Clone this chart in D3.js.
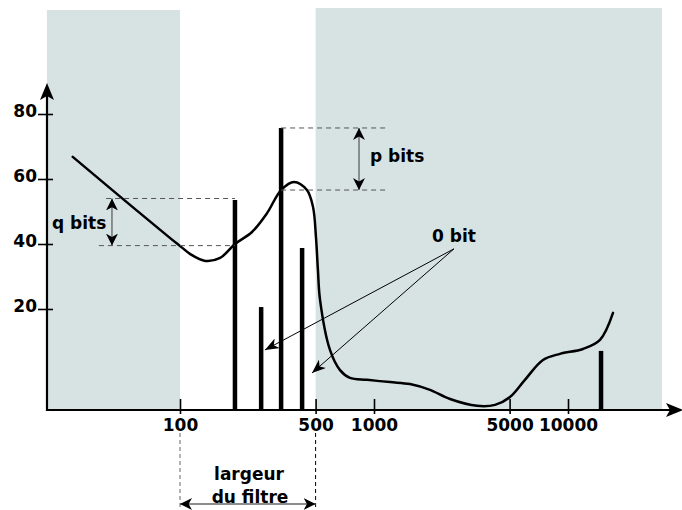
<!DOCTYPE html>
<html><head><meta charset="utf-8">
<script src="https://cdn.jsdelivr.net/npm/d3@7"></script>
<style>
body{margin:0;background:#fff}
svg text{font-family:"DejaVu Sans",sans-serif;font-weight:bold;font-size:17px;fill:#000}
</style>
</head><body><svg id="c" width="682" height="510"></svg>
<script>
// ---- data ----
const xTickValues = [100, 500, 1000, 5000, 10000];
const yTickValues = [20, 40, 60, 80];
const barFreq  = [192, 262, 332, 426, 14800];
const barLevel = [53.5, 20.6, 75.7, 38.8, 7.1];
const curveFreq  = [28, 50, 89, 100, 113, 135, 161, 192, 235, 281, 332, 387, 451, 485, 502, 514, 527, 593, 668, 752, 920, 1209, 1533, 1944, 2465, 3396, 4205, 5023, 5998, 7430, 9095, 11940, 14620, 17060];
const curveLevel = [66.8, 54.2, 41.8, 39.4, 36.9, 34.8, 35.7, 40, 43.7, 49.5, 56.6, 59.1, 56.6, 51.4, 42.2, 32, 22.8, 7.4, 1.2, -1.2, -1.8, -2.5, -3.1, -4.9, -7.7, -9.8, -9.5, -7.1, -1.8, 4.3, 6.2, 7.7, 10.5, 18.8];
const bandStart = [20.6, 500];
const bandEnd   = [100, 30500];
const bandTop   = [112, 112.6];
const qLevels = [54, 39.5];
const pLevels = [75.7, 56.6];
const zeroBitTargetsFreq  = [274, 479];
const zeroBitTargetsLevel = [7.4, 0.3];

// ---- scales ----
const svg = d3.select("#c");
const x = d3.scaleLog().domain([100, 10000]).range([180, 568]);
const y = d3.scaleLinear().domain([-11.08, 90]).range([410, 81.5]);
const baseY = 410, axisX = 47;

// markers
const defs = svg.append("defs");
function marker(id, len, half) {
  defs.append("marker").attr("id", id).attr("markerUnits", "userSpaceOnUse")
    .attr("viewBox", `${-len} ${-half} ${len} ${half*2}`)
    .attr("refX", 0).attr("refY", 0).attr("markerWidth", len).attr("markerHeight", half*2)
    .attr("orient", "auto-start-reverse")
    .append("path").attr("d", `M0,0 L${-len},${-half} L${-len*0.72},0 L${-len},${half} Z`).attr("fill", "#000");
}
marker("ah", 12, 6);
marker("ahs", 14, 5.5);

// bands
svg.selectAll("rect.band").data(bandStart).enter().append("rect")
  .attr("class", "band")
  .attr("x", (d) => x(d))
  .attr("y", (d, i) => y(bandTop[i]))
  .attr("width", (d, i) => x(bandEnd[i]) - x(d))
  .attr("height", (d, i) => baseY - y(bandTop[i]))
  .attr("fill", "#d7e3e3");

// bars
svg.selectAll("line.bar").data(barFreq).enter().append("line")
  .attr("x1", d => x(d)).attr("x2", d => x(d))
  .attr("y1", baseY).attr("y2", (d, i) => y(barLevel[i]))
  .attr("stroke", "#000").attr("stroke-width", 4.5);

// curve
const pts = curveFreq.map((f, i) => [x(f), y(curveLevel[i])]);
svg.append("path").attr("d", d3.line().curve(d3.curveCatmullRom.alpha(0.5))(pts))
  .attr("fill", "none").attr("stroke", "#000").attr("stroke-width", 2.5)
  .attr("stroke-linecap", "round");

// x axis
const gx = svg.append("g").attr("transform", `translate(0,${baseY})`)
  .call(d3.axisBottom(x).tickValues(xTickValues).tickFormat(d3.format("d")).tickSizeOuter(0));
gx.select(".domain").remove();
gx.selectAll(".tick line").attr("y1", -11).attr("y2", 4).attr("stroke", "#000").attr("stroke-width", 1.6);
gx.selectAll(".tick text").attr("y", 21).attr("dy", 0).attr("font-size", null).attr("font-family", null);
svg.append("line").attr("x1", axisX - 1).attr("x2", 670).attr("y1", baseY).attr("y2", baseY)
  .attr("stroke", "#000").attr("stroke-width", 2.2);
svg.append("path").attr("d", `M683,${baseY} L666,${baseY-7} L670,${baseY} L666,${baseY+7} Z`).attr("fill", "#000");

// y axis
const gy = svg.append("g").attr("transform", `translate(${axisX},0)`)
  .call(d3.axisLeft(y).tickValues(yTickValues).tickFormat(d3.format("d")).tickSizeOuter(0));
gy.select(".domain").remove();
gy.selectAll(".tick line").attr("x1", -9).attr("x2", 6).attr("stroke", "#000").attr("stroke-width", 1.6);
gy.selectAll(".tick text").attr("x", -10).attr("dy", 3).attr("font-size", null).attr("font-family", null);
svg.append("line").attr("x1", axisX).attr("x2", axisX).attr("y1", baseY + 1).attr("y2", 96)
  .attr("stroke", "#000").attr("stroke-width", 2.2);
svg.append("path").attr("d", `M${axisX},83 L${axisX+7},100 L${axisX},96 L${axisX-7},100 Z`).attr("fill", "#000");

// helpers
function dline(x1, y1, x2, y2, col, da) {
  return svg.append("line").attr("x1", x1).attr("y1", y1).attr("x2", x2).attr("y2", y2)
    .attr("stroke", col || "#555").attr("stroke-width", 1).attr("stroke-dasharray", da || "5,4");
}

// q bits annotation
dline(x(41.6), y(qLevels[0]), x(barFreq[0]), y(qLevels[0]));
dline(x(38.2), y(qLevels[1]), x(barFreq[0]), y(qLevels[1]));
svg.append("line").attr("x1", x(44.6)).attr("x2", x(44.6)).attr("y1", y(qLevels[0])).attr("y2", y(qLevels[1]))
  .attr("stroke", "#555").attr("stroke-width", 1.2)
  .attr("marker-start", "url(#ah)").attr("marker-end", "url(#ah)");
svg.append("text").attr("x", 52).attr("y", 229).text("q bits");

// p bits annotation
dline(x(barFreq[2]), y(pLevels[0]), x(1153), y(pLevels[0]));
dline(x(barFreq[2]), y(pLevels[1]), x(1190), y(pLevels[1]));
svg.append("line").attr("x1", x(837)).attr("x2", x(837)).attr("y1", y(pLevels[0])).attr("y2", y(pLevels[1]))
  .attr("stroke", "#555").attr("stroke-width", 1.2)
  .attr("marker-start", "url(#ah)").attr("marker-end", "url(#ah)");
svg.append("text").attr("x", 370).attr("y", 162).text("p bits");

// 0 bit annotation
const src = [x(2582), y(38.5)];
zeroBitTargetsFreq.forEach((f, i) => {
  svg.append("line").attr("x1", src[0]).attr("y1", src[1]).attr("x2", x(f)).attr("y2", y(zeroBitTargetsLevel[i]))
    .attr("stroke", "#000").attr("stroke-width", 1).attr("marker-end", "url(#ahs)");
});
svg.append("text").attr("x", 432).attr("y", 242).text("0 bit");

// filter width annotation
dline(x(100), 433, x(100), 510, "#666", "4,3");
dline(x(500), 433, x(500), 510, "#000", "4,3");
svg.append("line").attr("x1", x(100)).attr("x2", x(500)).attr("y1", 504).attr("y2", 504)
  .attr("stroke", "#666").attr("stroke-width", 1.5)
  .attr("marker-start", "url(#ah)").attr("marker-end", "url(#ah)");
svg.append("text").attr("x", 249).attr("y", 480).attr("text-anchor", "middle").text("largeur");
svg.append("text").attr("x", 250).attr("y", 503).attr("text-anchor", "middle").text("du filtre");
</script>
</body></html>
